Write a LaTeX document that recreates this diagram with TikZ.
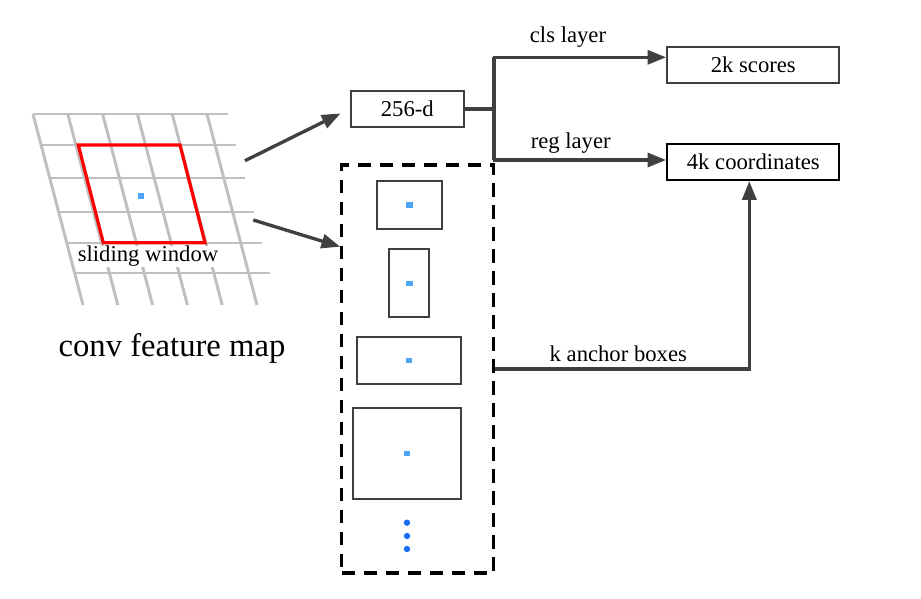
\documentclass[tikz,border=0pt]{standalone}
\usepackage{fontspec}
\setmainfont{Liberation Serif}
\usetikzlibrary{arrows.meta,calc}
\definecolor{ln}{HTML}{404040}
\definecolor{gridc}{HTML}{BFBFBF}
\definecolor{bsq}{HTML}{4DA6F5}
\definecolor{bdot}{HTML}{1A6EF5}
\tikzset{
  box/.style={draw=ln,line width=1.7pt,rectangle,inner sep=0pt,font=\fontsize{17}{20}\selectfont},
  abox/.style={draw=ln,line width=1.6pt,rectangle,inner sep=0pt},
  conn/.style={draw=ln,line width=2.5pt,-{Triangle[length=14pt,width=10.5pt]}},
  plainconn/.style={draw=ln,line width=2.5pt},
  lbl/.style={font=\fontsize{17}{20}\selectfont,inner sep=0pt},
  gridline/.style={draw=gridc,line width=2.2pt},
  sq/.style={fill=bsq,minimum width=5pt,minimum height=4pt,inner sep=0pt},
  bd/.style={circle,fill=bdot,minimum size=4.8pt,inner sep=0pt}
}
\begin{document}
\begin{tikzpicture}[x=0.75pt,y=-0.75pt]
\path[use as bounding box,fill=white] (0,0) rectangle (921,599);
% grid
\foreach \i in {0,...,5}{
  \draw[gridline] ({33+34.8*\i},114) -- ({83+34.8*\i},305);
}
\foreach \yy in {114,145,178,212,243,273}{
  \draw[gridline] ({33+50*(\yy-114)/191},\yy) -- ({33+50*(\yy-114)/191+195},\yy);
}
\draw[red,line width=2.4pt,line join=miter] (78.3,145) -- (180,145) -- (205,242.7) -- (103.3,242.7) -- cycle;
\node[sq] (wc) at (141,196) {};
\node[lbl,fill=white,inner sep=0pt] (sw) at (148,256.5) {sliding window};
\node[font=\fontsize{24.5}{28}\selectfont,inner sep=0pt] (cfm) at (172,348) {conv feature map};
\coordinate (g1) at (245,160.7);
\coordinate (g2) at (253.3,220);

% boxes
\node[box,minimum width=85pt,minimum height=27.5pt] (d256) at (407.3,109) {256-d};
\node[box,minimum width=129pt,minimum height=27.5pt] (scores) at (753.3,65) {2k scores};
\node[box,draw=black,minimum width=129pt,minimum height=27pt] (coords) at (753.3,162) {4k coordinates};

% dashed box
\node[draw=black,line width=2.3pt,dash pattern=on 10pt off 6.5pt,rectangle,minimum width=113.7pt,minimum height=306pt,inner sep=0pt] (anch) at (417.5,369) {};
\node[abox,minimum width=48.75pt,minimum height=36.5pt] (a1) at (409.2,205) {};
\node[abox,minimum width=29.75pt,minimum height=51pt] (a2) at (409.2,283.3) {};
\node[abox,minimum width=77.5pt,minimum height=35pt] (a3) at (409,360.7) {};
\node[abox,minimum width=81.2pt,minimum height=68.2pt] (a4) at (406.9,453.8) {};
\node[sq] at (a1.center) {};
\node[sq] at (a2.center) {};
\node[sq] at (a3.center) {};
\node[sq] at (a4.center) {};
\node[bd] (dt1) at (407,522.7) {};
\node[bd] (dt2) at (407,536) {};
\node[bd] (dt3) at (407,549) {};

% connectors
\draw[conn,shorten >=7.5pt] (g1) -- (d256.west |- 0,109);
\draw[conn] (g2) -- (anch.west |- 0,246.7);
\coordinate (br) at (494,109);
\coordinate (brt) at (494,57.3);
\coordinate (brb) at (494,160);
\draw[plainconn] (d256.east) -- (br);
\draw[plainconn] (brt) -- (brb);
\draw[conn] ($(brt)+(-1.25,0)$) -- (scores.west |- brt);
\draw[conn] ($(brb)+(-1.25,0)$) -- (coords.west |- brb);
\coordinate (kc) at (749.3,369);
\draw[conn] (anch.east) -- (kc) -- (kc |- coords.south);
\node[lbl] (cls) at (568,36.7) {cls layer};
\node[lbl] (reg) at (570.7,143.3) {reg layer};
\node[lbl] (kab) at (618.3,353.3) {k anchor boxes};
\end{tikzpicture}
\end{document}
